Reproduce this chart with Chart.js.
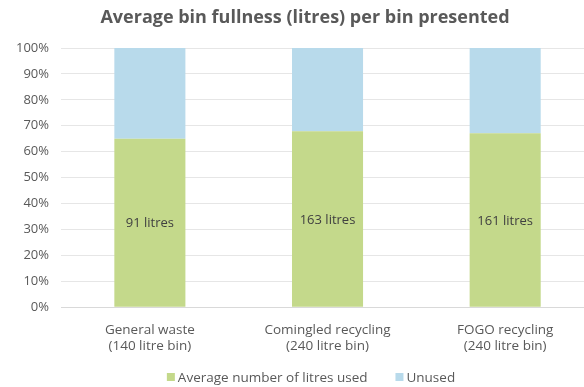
<!DOCTYPE html>
<html>
<head>
<meta charset="utf-8">
<script src="https://cdn.jsdelivr.net/npm/chart.js@4"></script>
<style>
  html, body { margin:0; padding:0; background:#fff; overflow:hidden; }
  #wrap { width:594px; height:387px; position:relative; }
</style>
</head>
<body>
<div id="wrap"><canvas id="binChart"></canvas></div>
<script>
const categories   = [['General waste', '(140 litre bin)'], ['Comingled recycling', '(240 litre bin)'], ['FOGO recycling', '(240 litre bin)']];
const binCapacity  = [140, 240, 240];
const litresUsed   = [91, 163, 161];
const yTicks       = [0, 10, 20, 30, 40, 50, 60, 70, 80, 90, 100];
const seriesNames  = ['Average number of litres used', 'Unused'];
const seriesColors = ['#c4d98b', '#b8daeb'];
const chartTitle   = 'Average bin fullness (litres) per bin presented';

const usedPct   = litresUsed.map((v, i) => v / binCapacity[i] * 100);
const unusedPct = usedPct.map(p => 100 - p);

const FONT = "'Open Sans', 'Noto Sans', sans-serif";
const GREY = '#595959';

// writes "NN litres" in the middle of each green segment
const litreLabels = {
    id: 'litreLabels',
    afterDatasetsDraw(chart) {
        const ctx = chart.ctx;
        const meta = chart.getDatasetMeta(0);
        ctx.save();
        ctx.font = `13px ${FONT}`;
        ctx.fillStyle = '#404040';
        ctx.textAlign = 'center';
        ctx.textBaseline = 'middle';
        meta.data.forEach((bar, i) => {
            ctx.fillText(`${litresUsed[i]} litres`, bar.x, (bar.y + bar.base) / 2 + 1);
        });
        ctx.restore();
    }
};

// title on top, small square legend along the bottom
const titleAndLegend = {
    id: 'titleAndLegend',
    afterDraw(chart) {
        const ctx = chart.ctx;
        ctx.save();
        ctx.fillStyle = GREY;
        ctx.textAlign = 'center';
        ctx.textBaseline = 'middle';
        ctx.font = `bold 18px ${FONT}`;
        ctx.fillText(chartTitle, 305, 18);

        ctx.font = `13.5px ${FONT}`;
        ctx.textAlign = 'left';
        const box = 8, gap = 3, spacing = 28;
        const widths = chart.data.datasets.map(d => ctx.measureText(d.label).width);
        const total = widths.reduce((a, w) => a + box + gap + w, 0) + spacing * (widths.length - 1);
        let x = 311 - total / 2;
        const y = 377;
        chart.data.datasets.forEach((d, i) => {
            ctx.fillStyle = d.backgroundColor;
            ctx.fillRect(x, y - box / 2, box, box);
            ctx.fillStyle = GREY;
            ctx.fillText(d.label, x + box + gap, y + 1);
            x += box + gap + widths[i] + spacing;
        });
        ctx.restore();
    }
};

new Chart(document.getElementById('binChart'), {
    type: 'bar',
    data: {
        labels: categories,
        datasets: [
            { label: seriesNames[0], data: usedPct, backgroundColor: seriesColors[0], stack: 's' },
            { label: seriesNames[1], data: unusedPct, backgroundColor: seriesColors[1], stack: 's' }
        ]
    },
    options: {
        responsive: true, maintainAspectRatio: false, animation: false,
        layout: { padding: { left: 4, right: 0, top: 48, bottom: 26 } },
        datasets: { bar: { barPercentage: 0.4, categoryPercentage: 1 } },
        plugins: {
            title: { display: false },
            legend: { display: false },
            tooltip: { enabled: false }
        },
        scales: {
            x: {
                stacked: true,
                grid: { display: false },
                border: { color: '#d9d9d9' },
                ticks: { color: GREY, font: { family: FONT, size: 13.5, lineHeight: 1.25 }, padding: 6 }
            },
            y: {
                stacked: true, min: 0, max: 100,
                afterBuildTicks: axis => { axis.ticks = yTicks.map(v => ({ value: v })); },
                grid: { color: '#e6e6e6', drawTicks: false },
                border: { display: false },
                ticks: { color: GREY, font: { family: FONT, size: 13 }, padding: 12, callback: v => v + '%' }
            }
        }
    },
    plugins: [litreLabels, titleAndLegend]
});
</script>
</body>
</html>
